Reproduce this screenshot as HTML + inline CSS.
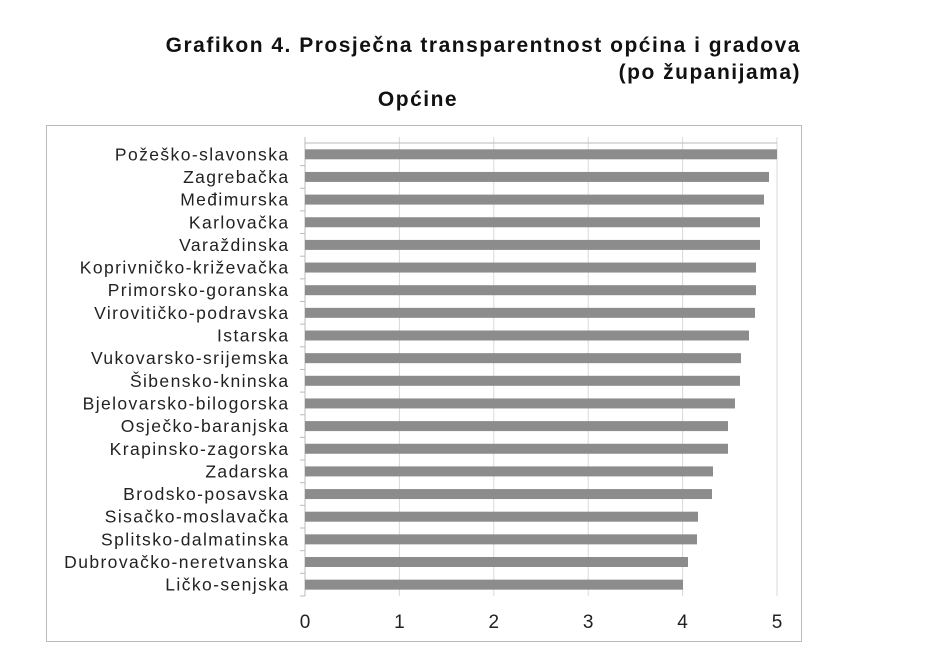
<!DOCTYPE html>
<html><head><meta charset="utf-8"><style>
body{margin:0;background:#fff;width:944px;height:655px;overflow:hidden;font-family:"Liberation Sans",sans-serif}
</style></head><body>
<svg width="944" height="655" xmlns="http://www.w3.org/2000/svg" font-family="Liberation Sans, sans-serif">
<text x="801" y="52" text-anchor="end" font-size="21" font-weight="bold" letter-spacing="1.5" fill="#111">Grafikon 4. Prosječna transparentnost općina i gradova</text>
<text x="801" y="79" text-anchor="end" font-size="21" font-weight="bold" letter-spacing="1.5" fill="#111">(po županijama)</text>
<text x="418" y="106" text-anchor="middle" font-size="21" font-weight="bold" letter-spacing="1.5" fill="#111">Općine</text>
<rect x="46.5" y="125.5" width="755" height="516" fill="none" stroke="#bbb"/>
<g stroke="#d9d9d9">
<line x1="399.4" y1="137" x2="399.4" y2="596"/><line x1="493.8" y1="137" x2="493.8" y2="596"/>
<line x1="588.2" y1="137" x2="588.2" y2="596"/><line x1="682.6" y1="137" x2="682.6" y2="596"/>
<line x1="777" y1="137" x2="777" y2="596"/>
</g>
<line x1="305" y1="143" x2="777" y2="143" stroke="#bbb"/>
<line x1="305" y1="137" x2="305" y2="596" stroke="#bbb"/>
<g id="bars" fill="#8c8c8c"></g>
<g id="labels" font-size="17.5" letter-spacing="1.4" fill="#222" text-anchor="end"></g>
<g font-size="19" fill="#222" text-anchor="middle">
<text x="305" y="628">0</text><text x="399.4" y="628">1</text><text x="493.8" y="628">2</text>
<text x="588.2" y="628">3</text><text x="682.6" y="628">4</text><text x="777" y="628">5</text>
</g>
<script>
var names=["Požeško-slavonska","Zagrebačka","Međimurska","Karlovačka","Varaždinska","Koprivničko-križevačka","Primorsko-goranska","Virovitičko-podravska","Istarska","Vukovarsko-srijemska","Šibensko-kninska","Bjelovarsko-bilogorska","Osječko-baranjska","Krapinsko-zagorska","Zadarska","Brodsko-posavska","Sisačko-moslavačka","Splitsko-dalmatinska","Dubrovačko-neretvanska","Ličko-senjska"];
var ends=[777,769,764,760,760,756,756,755,749,741,740,735,728,728,713,712,698,697,688,683];
var b=document.getElementById('bars'),l=document.getElementById('labels'),ns="http://www.w3.org/2000/svg";
for(var i=0;i<20;i++){var c=154.3+i*22.65;
var r=document.createElementNS(ns,'rect');r.setAttribute('x',305);r.setAttribute('y',c-5);r.setAttribute('width',ends[i]-305);r.setAttribute('height',10);b.appendChild(r);
var t=document.createElementNS(ns,'text');t.setAttribute('x',289.5);t.setAttribute('y',c+6);t.textContent=names[i];l.appendChild(t);
var k=document.createElementNS(ns,'line');k.setAttribute('x1',300);k.setAttribute('x2',305);k.setAttribute('y1',c+11.3);k.setAttribute('y2',c+11.3);k.setAttribute('stroke','#bbb');b.appendChild(k);}
</script>
</svg>
</body></html>
